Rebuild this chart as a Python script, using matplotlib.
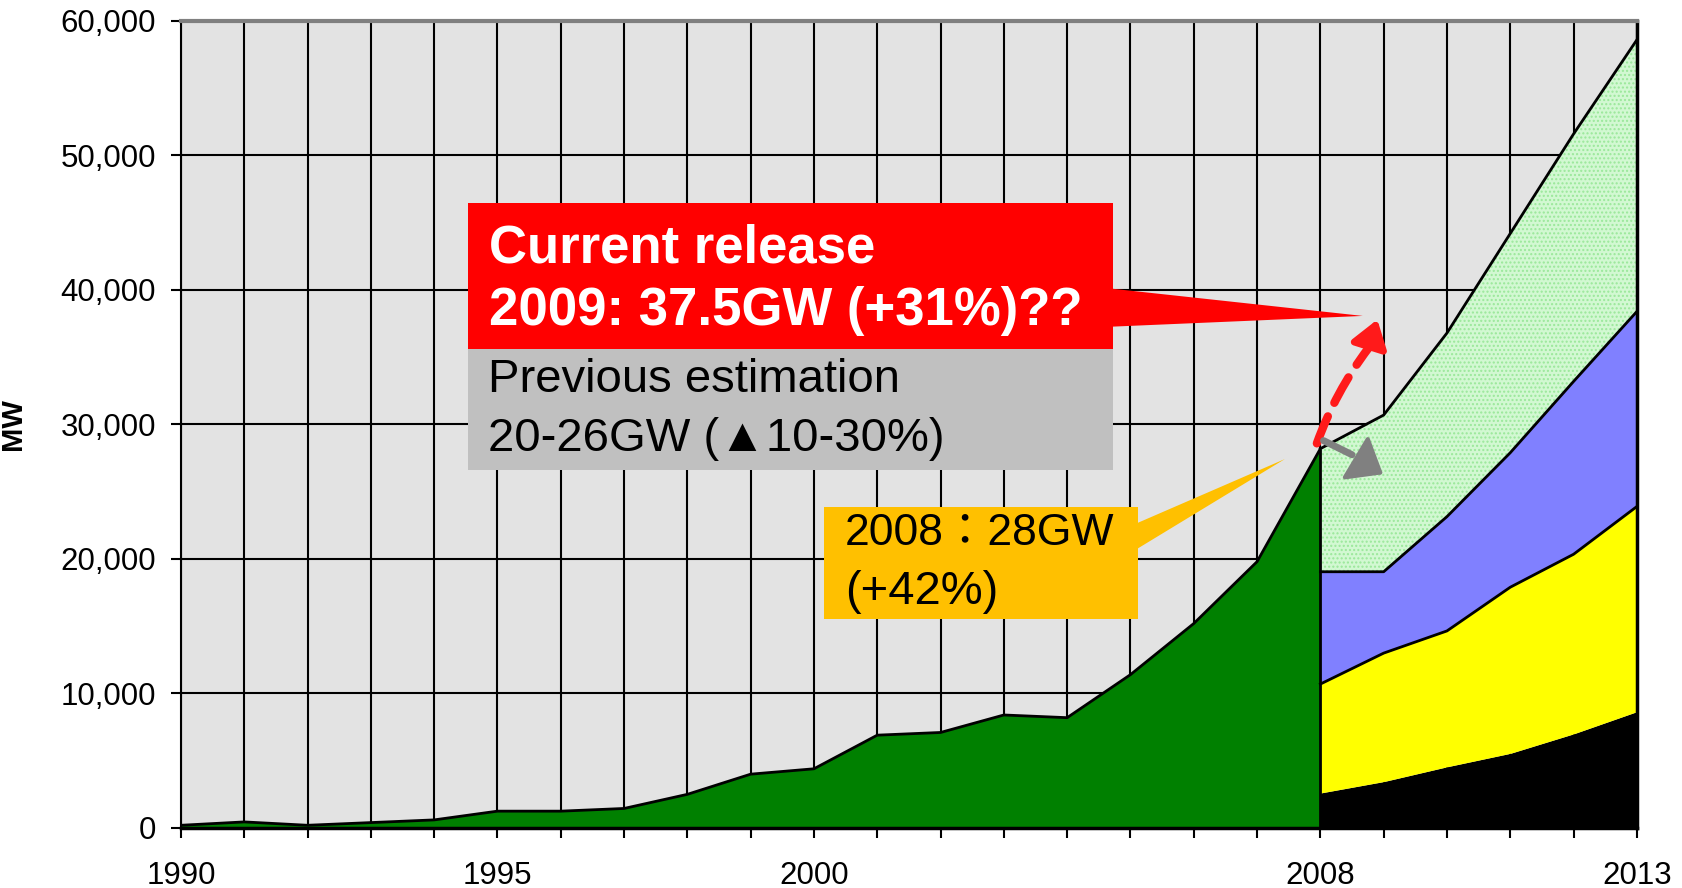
import matplotlib
matplotlib.use('Agg')
import matplotlib.pyplot as plt
from matplotlib.patches import Rectangle, Polygon, FancyArrowPatch
from matplotlib.ticker import FuncFormatter

plt.rcParams['font.family'] = ['Liberation Sans', 'DejaVu Sans', 'Noto Sans CJK JP']

# ---- data ----
hist_years = list(range(1990, 2009))
hist_mw = [200, 450, 200, 400, 600, 1250, 1250, 1450, 2500, 4000, 4400,
           6900, 7100, 8400, 8200, 11400, 15200, 19800, 28200]

fc_years = [2008, 2009, 2010, 2011, 2012, 2013]
fc_black = [2600, 3450, 4550, 5550, 7000, 8650]
fc_yellow = [10700, 13000, 14650, 17900, 20350, 23900]
fc_blue = [19050, 19050, 23150, 27900, 33200, 38400]
fc_total = [28200, 30700, 36800, 44200, 51600, 58600]

labeled_years = [1990, 1995, 2000, 2008, 2013]
y_ticks = [0, 10000, 20000, 30000, 40000, 50000, 60000]

# ---- figure ----
fig = plt.figure(figsize=(16.83, 8.88), dpi=100)
ax = fig.add_axes([0.1075, 0.0676, 0.8651, 0.9088])
ax.set_xlim(1990, 2013)
ax.set_ylim(0, 60000)
ax.set_facecolor('#e3e3e3')

all_years = list(range(1990, 2014))
ax.set_xticks(all_years)
ax.set_xticklabels([str(y) if y in labeled_years else '' for y in all_years])
ax.set_yticks(y_ticks)
ax.yaxis.set_major_formatter(FuncFormatter(lambda v, p: f'{int(v):,}'))
ax.grid(True, color='black', lw=1.5)
ax.set_axisbelow(True)
ax.tick_params(axis='x', direction='out', length=7, width=1.5, pad=17, labelsize=22.5)
ax.tick_params(axis='y', direction='out', length=7, width=1.5, pad=11, labelsize=22.5)

ax.set_ylabel('MW', fontsize=21, fontweight='bold')
ax.yaxis.set_label_coords(-0.106, 0.5)

# history area
ax.fill_between(hist_years, 0, hist_mw, color='#008000', lw=0, zorder=2)
ax.plot(hist_years, hist_mw, color='black', lw=2, zorder=3)

# forecast stacked levels
ax.fill_between(fc_years, 0, fc_black, color='black', lw=0, zorder=2)
ax.fill_between(fc_years, fc_black, fc_yellow, color='#ffff00', lw=0, zorder=2)
ax.fill_between(fc_years, fc_yellow, fc_blue, color='#8080ff', lw=0, zorder=2)
ax.fill_between(fc_years, fc_blue, fc_total, facecolor='#d2f8d2', edgecolor='#9ae89a',
                hatch='....', lw=0, zorder=2)
for level in (fc_yellow, fc_blue, fc_total):
    ax.plot(fc_years, level, color='black', lw=2, zorder=3)
ax.vlines(fc_years[0], 0, fc_total[0], color='black', lw=2, zorder=3)

# spines
ax.spines['top'].set_color('#808080')
ax.spines['top'].set_linewidth(3)
ax.spines['right'].set_color('black')
ax.spines['right'].set_linewidth(2.5)
ax.spines['left'].set_linewidth(1.5)
ax.spines['bottom'].set_linewidth(2.5)
for s in ax.spines.values():
    s.set_zorder(4)

# ---- annotations ----
# red callout
ax.add_patch(Polygon([(2004.6, 40150), (2008.67, 38070), (2004.6, 37250)],
                     closed=True, fc='#ff0000', ec='none', zorder=5, clip_on=False))
ax.add_patch(Rectangle((1994.53, 35610), 10.19, 10860, fc='#ff0000', ec='none', zorder=5))
ax.add_patch(Rectangle((1994.53, 26620), 10.19, 8990, fc='#c0c0c0', ec='none', zorder=5))
ax.text(1994.87, 43050, 'Current release', color='white', fontsize=38,
        fontweight='bold', va='center', ha='left', zorder=6)
ax.text(1994.87, 38440, '2009: 37.5GW (+31%)??', color='white', fontsize=38,
        fontweight='bold', va='center', ha='left', zorder=6)
ax.text(1994.85, 33300, 'Previous estimation', color='black', fontsize=34,
        va='center', ha='left', zorder=6)
ax.text(1994.85, 28950, '20-26GW (▲10-30%)', color='black', fontsize=34,
        va='center', ha='left', zorder=6)

# yellow callout
ax.add_patch(Polygon([(2005.0, 22450), (2007.44, 27430), (2005.0, 20450)],
                     closed=True, fc='#ffc000', ec='none', zorder=5))
ax.add_patch(Rectangle((2000.16, 15540), 4.96, 8330, fc='#ffc000', ec='none', zorder=5))
ax.text(2000.49, 21860, '2008：28GW', color='black', fontsize=32,
        va='center', ha='left', zorder=6)
ax.text(2000.49, 17550, '(+42%)', color='black', fontsize=34,
        va='center', ha='left', zorder=6)

# red dashed arrow (2008 -> 2009 current release)
ax.add_patch(FancyArrowPatch((2007.93, 28400), (2008.78, 35800),
                             connectionstyle='arc3,rad=-0.08', arrowstyle='-',
                             color='#ff1a1a', lw=6, linestyle=(0, (3.5, 1.8)),
                             zorder=7))
ax.add_patch(FancyArrowPatch((2008.76, 35700), (2008.9, 37800),
                             arrowstyle='-|>,head_length=0.8,head_width=0.55',
                             mutation_scale=20, color='#ff1a1a', lw=5, zorder=7,
                             shrinkA=0, shrinkB=0))
# gray arrow (previous estimation)
ax.add_patch(FancyArrowPatch((2008.05, 28800), (2008.5, 27750),
                             arrowstyle='-', color='#808080', lw=5,
                             zorder=7, shrinkA=0, shrinkB=0))
ax.add_patch(FancyArrowPatch((2008.6, 27400), (2008.99, 26300),
                             arrowstyle='-|>,head_length=1.0,head_width=0.8',
                             mutation_scale=20, color='#808080', lw=3,
                             zorder=7, shrinkA=0, shrinkB=0))

fig.savefig('out.png', dpi=100)
